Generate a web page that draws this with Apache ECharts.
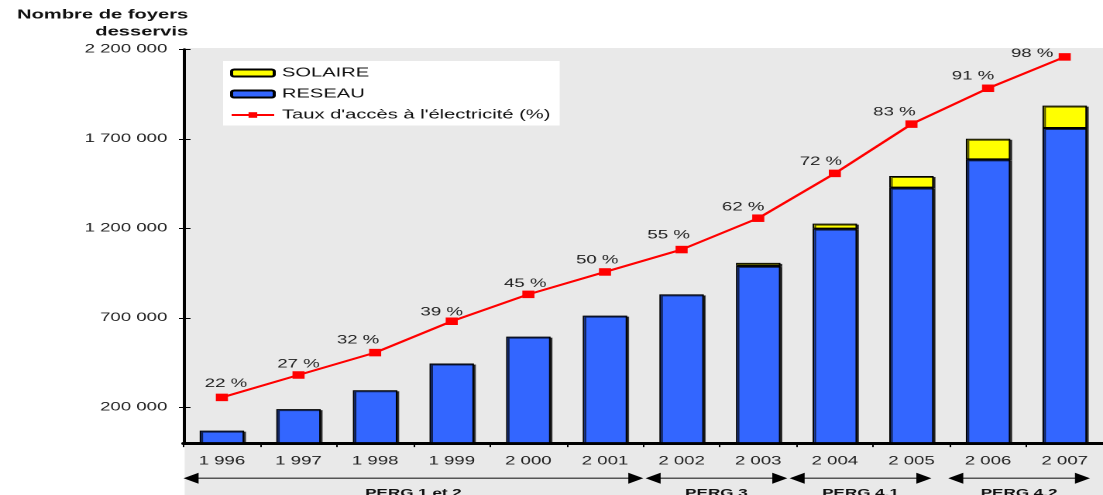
<!DOCTYPE html>
<html>
<head>
<meta charset="utf-8">
<script src="https://cdn.jsdelivr.net/npm/echarts@6/dist/echarts.min.js"></script>
<style>
  html, body { margin: 0; padding: 0; background: #fff; overflow: hidden; }
  /* the source chart is a horizontally stretched export, so draw narrow and stretch */
  #chart { width: 712px; height: 495px; transform: scaleX(1.54916); transform-origin: 0 0; }
</style>
</head>
<body>
<div id="chart"></div>
<script>
const years = ['1 996', '1 997', '1 998', '1 999', '2 000', '2 001', '2 002', '2 003', '2 004', '2 005', '2 006', '2 007'];
const reseau = [70000, 190000, 295000, 445000, 595000, 712000, 831000, 990000, 1198000, 1427000, 1585000, 1760000];
const solaire = [0, 0, 0, 0, 0, 0, 0, 17000, 28000, 65000, 115000, 125000];
const taux = [22, 27, 32, 39, 45, 50, 55, 62, 72, 83, 91, 98];
const yTicks = [200000, 700000, 1200000, 1700000, 2200000];
const periods = [
  { name: 'PERG 1 et 2', from: 0, to: 6 },
  { name: 'PERG 3', from: 6.03, to: 7.88 },
  { name: 'PERG 4.1', from: 7.91, to: 9.76 },
  { name: 'PERG 4.2', from: 9.98, to: 11.83 }
];
// nudges for the % labels [dx, dy]
const labelShift = [[2.6, -2.6], [0, 0.4], [-11, -1.3], [-6.5, 2], [-2, 0.4], [-5, -0.3],
  [-8.4, -3], [-9.7, 0.4], [-9, -0.3], [-11, -0.6], [-9.7, -0.6], [-21, 8]];

const FONT = "'Liberation Sans', Arial, sans-serif";
const chart = echarts.init(document.getElementById('chart'), null, { renderer: 'canvas', devicePixelRatio: 2 });

const fmt = v => String(v).replace(/\B(?=(\d{3})+(?!\d))/g, ' ');
const barStyle = color => ({
  color: color,
  borderColor: '#000',
  borderWidth: 1,
  shadowColor: 'rgba(0,0,0,0.7)',
  shadowOffsetX: 1.2,
  shadowOffsetY: 1,
  shadowBlur: 0
});

const option = {
  animation: false,
  textStyle: { fontFamily: FONT },
  grid: { left: 118.5, right: -6, top: 49.3, bottom: 51.9 },
  legend: {
    orient: 'vertical',
    left: 144,
    top: 61,
    backgroundColor: '#fff',
    padding: [5.5, 6, 4, 4.5],
    itemWidth: 27.5,
    itemHeight: 7,
    itemGap: 8,
    data: ['SOLAIRE', 'RESEAU', "Taux d'accès à l'électricité (%)"],
    itemStyle: { shadowBlur: 0, shadowOffsetX: 0, shadowOffsetY: 0 },
    textStyle: { fontFamily: FONT, fontSize: 13, color: '#111' }
  },
  xAxis: {
    type: 'category',
    data: years,
    axisLine: { lineStyle: { color: '#000', width: 3 } },
    axisTick: { show: true, length: 4, lineStyle: { color: '#000', width: 1 } },
    axisLabel: { fontFamily: FONT, fontSize: 12, color: '#222', margin: 12 }
  },
  yAxis: [
    {
      type: 'value',
      min: 0,
      max: 2200000,
      position: 'left',
      name: 'Nombre de foyers\ndesservis',
      nameLocation: 'end',
      nameGap: 9,
      nameTextStyle: {
        fontFamily: FONT, fontWeight: 'bold', fontSize: 13, lineHeight: 17, color: '#111',
        align: 'right', verticalAlign: 'bottom', padding: [0, -3, 0, 0]
      },
      splitLine: { show: false },
      axisLine: { show: true, lineStyle: { color: '#000', width: 2 } },
      axisTick: { show: true, length: 3, customValues: yTicks, lineStyle: { color: '#000' } },
      axisLabel: { fontFamily: FONT, fontSize: 12, color: '#222', margin: 10.5, customValues: yTicks, formatter: fmt }
    },
    { type: 'value', min: 11.8, max: 99.7, position: 'right', show: false },
    {
      type: 'value',
      min: 0,
      max: 2200000,
      position: 'left',
      splitLine: { show: false },
      axisLine: { show: false },
      axisLabel: { show: false },
      axisTick: { show: true, inside: true, length: 4.5, customValues: yTicks, lineStyle: { color: '#000' } }
    }
  ],
  series: [
    {
      name: 'RESEAU',
      type: 'bar',
      stack: 'foyers',
      barWidth: '58%',
      itemStyle: barStyle('#3366ff'),
      data: reseau
    },
    {
      name: 'SOLAIRE',
      type: 'bar',
      stack: 'foyers',
      barWidth: '58%',
      itemStyle: barStyle('#ffff00'),
      data: solaire.map(v => (v ? v : '-'))
    },
    {
      name: "Taux d'accès à l'électricité (%)",
      type: 'line',
      yAxisIndex: 1,
      z: 5,
      symbol: 'rect',
      symbolSize: [7.8, 7.5],
      lineStyle: { color: '#ff0000', width: 2 },
      itemStyle: { color: '#ff0000' },
      label: {
        show: true,
        position: 'top',
        distance: 1.5,
        fontFamily: FONT,
        fontSize: 12,
        color: '#222',
        formatter: p => p.value + ' %'
      },
      data: taux.map((v, i) => ({ value: v, label: { offset: labelShift[i] } }))
    }
  ]
};

chart.setOption(option);

// shaded background and the programme arrows under the axis
const c0 = chart.convertToPixel({ xAxisIndex: 0 }, years[0]);
const c1 = chart.convertToPixel({ xAxisIndex: 0 }, years[1]);
const cw = c1 - c0;
const start = c0 - cw / 2;
const arrowY = 478.3;
const els = [{
  type: 'rect', z: -100, silent: true,
  shape: { x: 119.2, y: 48, width: 620, height: 460 },
  style: { fill: '#e9e9e9' }
}];
periods.forEach(p => {
  const a = start + p.from * cw;
  const b = start + p.to * cw;
  els.push({ type: 'line', shape: { x1: a + 6, y1: arrowY, x2: b - 6, y2: arrowY }, style: { stroke: '#555', lineWidth: 1.5 } });
  els.push({ type: 'polygon', shape: { points: [[a, arrowY], [a + 9.7, arrowY - 5.5], [a + 9.7, arrowY + 5.5]] }, style: { fill: '#000' } });
  els.push({ type: 'polygon', shape: { points: [[b, arrowY], [b - 9.7, arrowY - 5.5], [b - 9.7, arrowY + 5.5]] }, style: { fill: '#000' } });
  els.push({
    type: 'text', x: (a + b) / 2, y: 493.5,
    style: { text: p.name, font: 'bold 11px ' + FONT, fill: '#111', align: 'center', verticalAlign: 'middle' }
  });
});
chart.setOption({ graphic: els });
</script>
</body>
</html>
